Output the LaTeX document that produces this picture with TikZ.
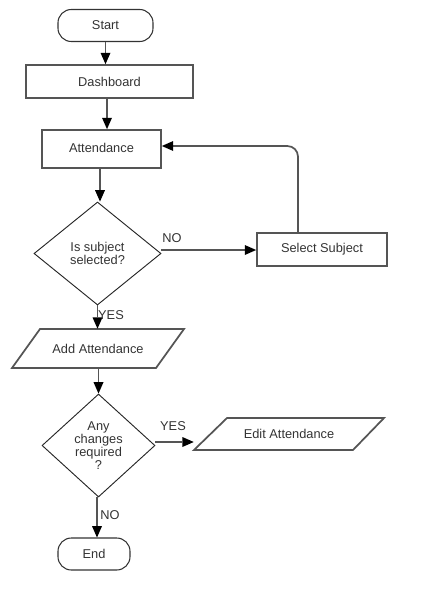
\documentclass[tikz,border=0pt]{standalone}
\usepackage{fontspec}
\setmainfont{Liberation Sans}
\usetikzlibrary{shapes.geometric,arrows.meta,calc}
\def\px{0.75pt}
\definecolor{ln}{HTML}{555555}
\definecolor{tx}{HTML}{333333}
\begin{document}
\begin{tikzpicture}[x=0.75pt,y=-0.75pt,
  every node/.style={font=\fontsize{9.6}{10}\selectfont,text=tx,inner sep=0pt},
  box/.style={draw=ln,line width=1.3pt,rectangle},
  term/.style={draw=black!80,line width=0.8pt,rectangle,rounded corners=10pt},
  dec/.style={draw=black!85,line width=0.7pt,diamond,align=center},
  para/.style={draw=ln,line width=1.3pt,line join=miter},
  arr/.style={draw=ln,line width=1.3pt,-{Triangle[length=8.5pt,width=7.5pt,fill=black,line width=0pt]}},
  lbl/.style={text=tx}]
\useasboundingbox (0,0) rectangle (426,610);
\node[term,minimum width=95*\px,minimum height=32*\px] (start) at (105.5,25.5) {Start};
\node[box,minimum width=167*\px,minimum height=33*\px] (dash) at (109.5,81.5) {Dashboard};
\node[box,minimum width=119*\px,minimum height=38*\px] (att) at (101.5,149) {\raisebox{2pt}{Attendance}};
\node[dec,minimum width=127*\px,minimum height=103*\px,font=\fontsize{9.6}{8.8}\selectfont] (d1) at (97.5,253.5) {Is subject\\selected?};
\node[box,minimum width=130*\px,minimum height=33*\px] (sel) at (322,249.5) {Select Subject};
\node[minimum width=144*\px,minimum height=39*\px] (add) at (98,348.5) {Add Attendance};
\draw[para] (12,368) -- (40,329) -- (184,329) -- (156,368) -- cycle;
\node[dec,minimum width=113*\px,minimum height=103*\px,font=\fontsize{9.6}{9.6}\selectfont] (d2) at (98.5,445.5) {Any\\changes\\required\\?};
\node[minimum width=190*\px,minimum height=32*\px] (edit) at (289,434) {Edit Attendance};
\draw[para] (194,450) -- (227,418) -- (384,418) -- (353,450) -- cycle;
\node[term,minimum width=72*\px,minimum height=32*\px] (end) at (94,554) {End};
\coordinate (lp) at (298,146);
\coordinate (c2) at (107,98);
\coordinate (c3) at (100,168);
\coordinate (c4) at (161,250);
\coordinate (c8) at (155,442);
\coordinate (c9) at (97,497);
\draw[arr] (start.south) -- (start.south |- dash.north);
\draw[arr] (c2) -- (c2 |- att.north);
\draw[arr] (c3) -- (c3 |- d1.north);
\draw[arr] (c4) -- (c4 -| sel.west);
\draw[arr,rounded corners=8pt] (sel.north -| lp) -- (lp) -- (att.east |- lp);
\draw[arr] (d1.south) -- (d1.south |- add.north);
\draw[arr] (add.south -| d2.north) -- (d2.north);
\draw[arr] (c8) -- (c8 -| edit.west);
\draw[arr] (c9) -- (c9 |- end.north);
\node[lbl] (l1) at (172,238) {NO};
\node[lbl] (l2) at (111,315) {YES};
\node[lbl] (l3) at (173,426) {YES};
\node[lbl] (l4) at (110,515) {NO};
\end{tikzpicture}
\end{document}
